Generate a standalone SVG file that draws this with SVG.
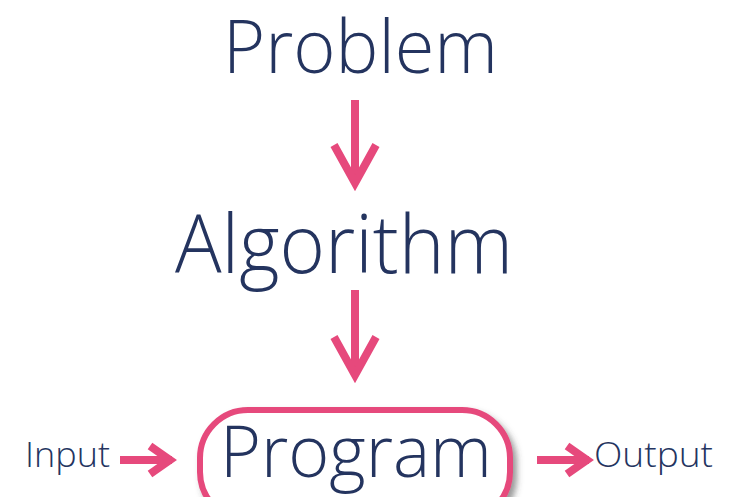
<svg xmlns="http://www.w3.org/2000/svg" width="733" height="497" viewBox="0 0 733 497">
  <defs>
    <style>
      .lbl { font-family: "Open Sans", "Lato", "Liberation Sans", sans-serif; fill: #24345f; font-weight: 300; }
      .conn { fill: none; stroke: #e6497c; stroke-width: 8; stroke-linecap: butt; stroke-linejoin: miter; }
      .chev { fill: none; stroke: #e6497c; stroke-width: 8; stroke-linejoin: miter; }
    </style>
    <filter id="shadow" x="-10%" y="-20%" width="125%" height="150%">
      <feDropShadow dx="4" dy="5" stdDeviation="3" flood-color="#444" flood-opacity="0.55"/>
    </filter>
  </defs>
  <rect width="733" height="497" fill="#ffffff"/>

  <g id="connectors">
    <g id="arrow-problem-algorithm">
      <line class="conn" x1="355" y1="100" x2="355" y2="184"/>
      <polyline class="chev" points="334,145 355,183 376,145"/>
    </g>
    <g id="arrow-algorithm-program">
      <line class="conn" x1="355" y1="290" x2="355" y2="376"/>
      <polyline class="chev" points="334,337 355,375 376,337"/>
    </g>
    <g id="arrow-input-program">
      <line class="conn" x1="120" y1="460" x2="172" y2="460" stroke-width="7"/>
      <polyline class="chev" points="150,446 170,460 150,474" stroke-width="7"/>
    </g>
    <g id="arrow-program-output">
      <line class="conn" x1="537" y1="460" x2="589" y2="460" stroke-width="7"/>
      <polyline class="chev" points="567,446 587,460 567,474" stroke-width="7"/>
    </g>
  </g>

  <g id="problem">
    <text class="lbl" x="223" y="73" font-size="74" textLength="275" lengthAdjust="spacingAndGlyphs">Problem</text>
  </g>
  <g id="algorithm">
    <text class="lbl" x="175" y="273" font-size="82" textLength="338" lengthAdjust="spacingAndGlyphs">Algorithm</text>
  </g>
  <g id="program">
    <rect x="200" y="410" width="310" height="110" rx="48" ry="48" fill="#ffffff" stroke="#e6497c" stroke-width="6" filter="url(#shadow)"/>
    <text class="lbl" x="220" y="477" font-size="72" textLength="272" lengthAdjust="spacingAndGlyphs">Program</text>
  </g>
  <g id="input">
    <text class="lbl" x="25" y="467" font-size="34" textLength="85" lengthAdjust="spacingAndGlyphs">Input</text>
  </g>
  <g id="output">
    <text class="lbl" x="594" y="467" font-size="34" textLength="119" lengthAdjust="spacingAndGlyphs">Output</text>
  </g>
</svg>
